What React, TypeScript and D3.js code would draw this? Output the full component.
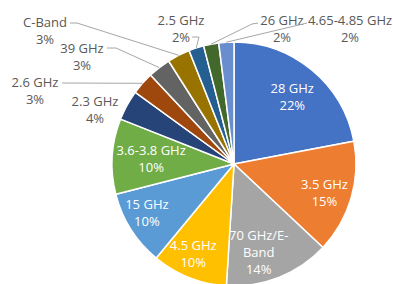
import * as d3 from 'd3';
import React from 'react';

// shares of spectrum bands, clockwise from 12 o'clock
const categories = [
    '28 GHz', '3.5 GHz', '70 GHz/E-Band', '4.5 GHz', '15 GHz', '3.6-3.8 GHz',
    '2.3 GHz', '2.6 GHz', '39 GHz', 'C-Band', '2.5 GHz', '26 GHz', '4.65-4.85 GHz',
];
const shares = [22, 15, 14, 10, 10, 10, 4, 3, 3, 3, 2, 2, 2];
const colors = [
    '#4472C4', '#ED7D31', '#A5A5A5', '#FFC000', '#5B9BD5', '#70AD47',
    '#264478', '#9E480E', '#636363', '#997300', '#255E91', '#43682B', '#698ED0',
];

// wrapped label text
const wrapped: Record<string, string[]> = {
    '70 GHz/E-Band': ['70 GHz/E-', 'Band'],
};

const width = 393;
const height = 284;
const cx = 234;
const cy = 164;
const R = 122;
const lineH = 17;

// inside labels: radius and small angle nudge (deg)
const insideLayout: Record<string, { r: number; da: number }> = {
    '28 GHz': { r: 89, da: 1.3 },
    '3.5 GHz': { r: 95, da: 1.5 },
    '70 GHz/E-Band': { r: 92, da: 6 },
    '4.5 GHz': { r: 99, da: 2.7 },
    '15 GHz': { r: 100, da: 3 },
    '3.6-3.8 GHz': { r: 83, da: 0 },
};

// outside labels: centre of text block + leader start points
const outsideLayout: Record<string, { x: number; y: number; leader?: [number, number][] }> = {
    '2.3 GHz': { x: 95, y: 110 },
    '2.6 GHz': { x: 35, y: 91, leader: [[62, 83]] },
    '39 GHz': { x: 82, y: 57, leader: [[107, 48], [116, 48]] },
    'C-Band': { x: 45, y: 31, leader: [[70, 23], [77, 23]] },
    '2.5 GHz': { x: 181, y: 29, leader: [[192, 37], [199, 37]] },
    '26 GHz': { x: 282, y: 29, leader: [[258, 23], [252, 24]] },
    '4.65-4.85 GHz': { x: 350, y: 29, leader: [[307, 23]] },
};

const polar = (a: number, r: number): [number, number] => [cx + r * Math.sin(a), cy - r * Math.cos(a)];

const App: React.FC = () => {
    const arcs = d3.pie<number>().sort(null).value((d) => d)(shares);
    const arc = d3.arc<d3.PieArcDatum<number>>().innerRadius(0).outerRadius(R);
    const line = d3.line();

    return (
        <svg
            width={width}
            height={height}
            style={{ position: 'absolute', left: 0, top: 0, background: '#fff' }}
            fontFamily="'Open Sans', sans-serif"
            fontSize={13}
        >
            <g transform={`translate(${cx},${cy})`}>
                {arcs.map((a, i) => (
                    <path key={i} d={arc(a) ?? ''} fill={colors[i]} stroke="#fff" strokeWidth={1.5} />
                ))}
            </g>
            {arcs.map((a, i) => {
                const name = categories[i];
                const lines = [...(wrapped[name] ?? [name]), `${shares[i]}%`];
                const mid = (a.startAngle + a.endAngle) / 2;
                const inside = insideLayout[name];
                if (inside) {
                    const [x, y] = polar(mid + (inside.da * Math.PI) / 180, inside.r);
                    const y0 = y - ((lines.length - 1) * lineH) / 2;
                    return (
                        <text key={name} x={x} textAnchor="middle" fill="#fff">
                            {lines.map((t, j) => (
                                <tspan key={j} x={x} y={y0 + j * lineH} dy="0.35em">{t}</tspan>
                            ))}
                        </text>
                    );
                }
                const out = outsideLayout[name];
                const y0 = out.y - ((lines.length - 1) * lineH) / 2;
                const pts = out.leader ? [...out.leader, polar(mid, R)] : null;
                return (
                    <g key={name}>
                        {pts && (
                            <path d={line(pts as [number, number][]) ?? ''} fill="none" stroke="#a6a6a6" strokeWidth={1} />
                        )}
                        <text x={out.x} textAnchor="middle" fill="#595959">
                            {lines.map((t, j) => (
                                <tspan key={j} x={out.x} y={y0 + j * lineH} dy="0.35em">{t}</tspan>
                            ))}
                        </text>
                    </g>
                );
            })}
        </svg>
    );
};

export default App;
